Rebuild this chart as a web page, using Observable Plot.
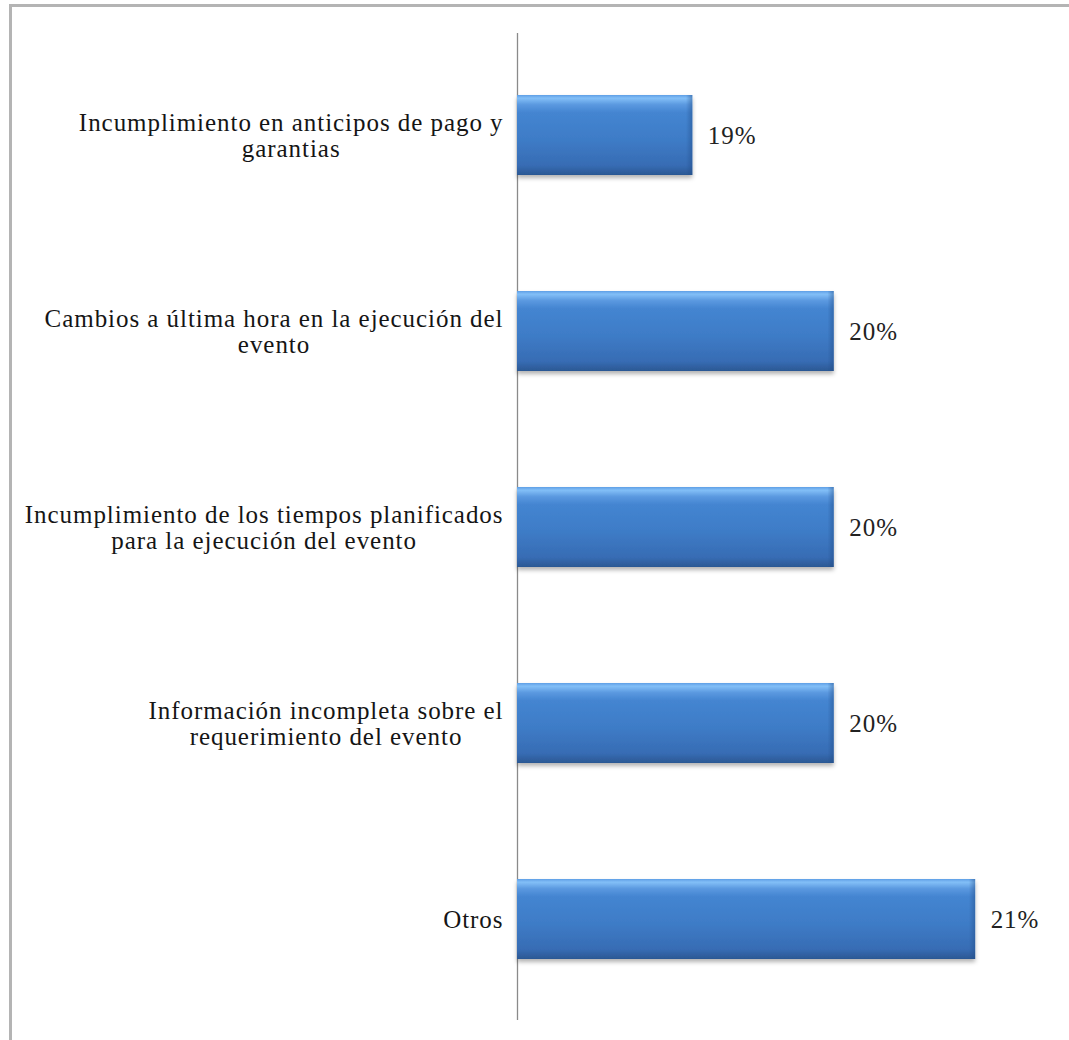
<!DOCTYPE html>
<html>
<head>
<meta charset="utf-8">
<script src="https://cdn.jsdelivr.net/npm/d3@7"></script>
<script src="https://cdn.jsdelivr.net/npm/@observablehq/plot@0.6"></script>
<style>
  html, body { margin: 0; padding: 0; background: #fff; }
  #wrap { position: relative; width: 1069px; height: 1040px; overflow: hidden; }
  #frame { position: absolute; left: 9px; top: 4px; right: -5px; bottom: -5px;
           border-left: 3px solid #b4b4b4; border-top: 3px solid #b4b4b4; pointer-events: none; }
  #chart svg { display: block; }
</style>
</head>
<body>
<div id="wrap"><div id="chart"></div><div id="frame"></div></div>
<script>
// ---- data ----
const categories = [
  "Incumplimiento en anticipos de pago y garantias",
  "Cambios a última hora en la ejecución del evento",
  "Incumplimiento de los tiempos planificados para la ejecución del evento",
  "Información incompleta sobre el requerimiento del evento",
  "Otros"
];
const labelLines = [
  ["Incumplimiento en anticipos de pago y", "garantias"],
  ["Cambios a última hora en la ejecución del", "evento"],
  ["Incumplimiento de los tiempos planificados", "para la ejecución del evento"],
  ["Información incompleta sobre el", "requerimiento del evento"],
  ["Otros"]
];
const values = [19, 20, 20, 20, 21];
const valueLabels = ["19%", "20%", "20%", "20%", "21%"];

// ---- layout / style ----
const xMin = 17.76, xMax = 21.6;
const FONT = "'Liberation Serif', 'Times New Roman', serif";
const FS = 25, LS = 0.95;

const rows = categories.map((c, i) => ({
  cat: c, label: labelLines[i].join("\n"), lines: labelLines[i],
  value: values[i], valueLabel: valueLabels[i]
}));

const ctx = document.createElement("canvas").getContext("2d");
ctx.font = `${FS}px ${FONT}`;
const widthOf = s => ctx.measureText(s).width + LS * s.length;

const NS = "http://www.w3.org/2000/svg";
function defsMark() {
  const defs = document.createElementNS(NS, "defs");
  defs.innerHTML = `
    <linearGradient id="barGrad" x1="0" y1="0" x2="0" y2="1">
      <stop offset="0" stop-color="#5f9fe6"/>
      <stop offset="0.04" stop-color="#82bff7"/>
      <stop offset="0.12" stop-color="#5b99e0"/>
      <stop offset="0.22" stop-color="#4485d1"/>
      <stop offset="0.55" stop-color="#3e7cc7"/>
      <stop offset="0.88" stop-color="#376cb4"/>
      <stop offset="1" stop-color="#2b5893"/>
    </linearGradient>
    <linearGradient id="edgeGrad" x1="0" y1="0" x2="1" y2="0">
      <stop offset="0" stop-color="#1f4a85" stop-opacity="0"/>
      <stop offset="1" stop-color="#1f4a85" stop-opacity="0.45"/>
    </linearGradient>
    <filter id="shadow" x="-5%" y="-20%" width="110%" height="150%">
      <feDropShadow dx="0" dy="3" stdDeviation="2" flood-color="#000" flood-opacity="0.3"/>
    </filter>`;
  return defs;
}

const labelMarks = rows.map(r => {
  const w = d3.max(r.lines, widthOf);
  return Plot.text([r], {
    y: "cat", frameAnchor: "left", text: "label",
    textAnchor: "middle", dx: -14 - w / 2,
    lineHeight: 1.05, fontSize: FS, fill: "#151515"
  });
});

const chart = Plot.plot({
  width: 1069, height: 1040,
  marginLeft: 517, marginRight: 9, marginTop: 33, marginBottom: 20,
  x: {domain: [xMin, xMax], axis: null},
  y: {domain: categories, axis: null, paddingInner: 0.5924, paddingOuter: 0.311},
  style: {fontFamily: FONT, background: "transparent", letterSpacing: LS + "px", overflow: "visible"},
  marks: [
    defsMark,
    Plot.ruleX([xMin], {stroke: "#8a8a8a", strokeWidth: 1.3}),
    Plot.barX(rows, {y: "cat", x1: d => xMin, x2: "value", fill: "url(#barGrad)"}),
    Plot.barX(rows, {y: "cat", x1: d => d.value - 0.045, x2: "value", fill: "url(#edgeGrad)"}),
    Plot.text(rows, {y: "cat", x: "value", text: "valueLabel", textAnchor: "start", dx: 15, fontSize: FS, fill: "#222"}),
    ...labelMarks
  ]
});
const rectGroups = chart.querySelectorAll('g[aria-label="bar"]');
if (rectGroups.length) rectGroups[0].setAttribute("filter", "url(#shadow)");
document.getElementById("chart").appendChild(chart);
</script>
</body>
</html>
